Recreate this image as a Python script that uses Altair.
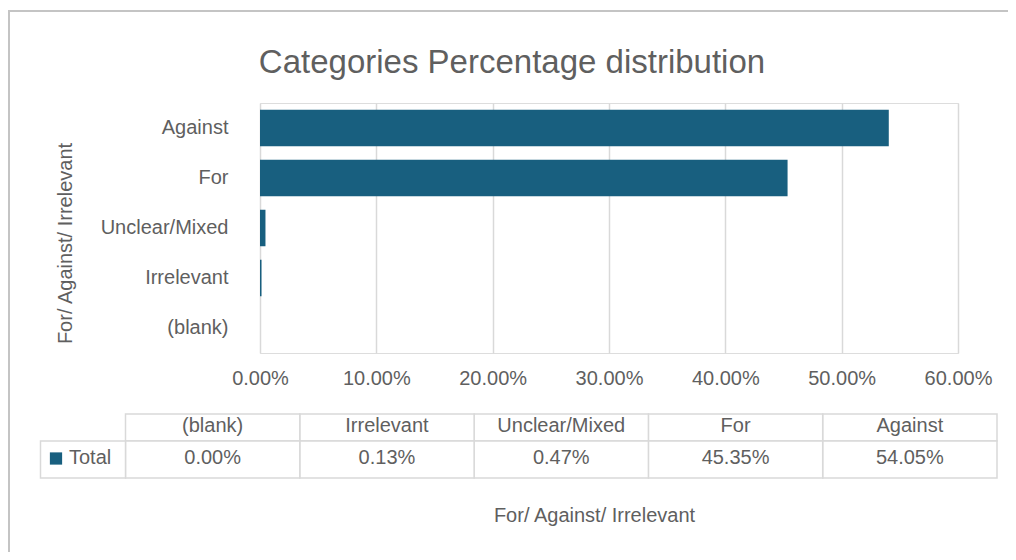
import altair as alt
import pandas as pd

# ---- data ----
categories = ["Against", "For", "Unclear/Mixed", "Irrelevant", "(blank)"]
percentages = [0.5405, 0.4535, 0.0047, 0.0013, 0.0000]
table_order = ["(blank)", "Irrelevant", "Unclear/Mixed", "For", "Against"]
x_ticks = [0.0, 0.1, 0.2, 0.3, 0.4, 0.5, 0.6]
series_name = "Total"
chart_title = "Categories Percentage distribution"
axis_title = "For/ Against/ Irrelevant"

# ---- styles ----
BAR = "#185f7f"
TXT = "#5f5f5f"
GRID = "#d9d9d9"
FRAME = "#c4c4c4"
FONT = "Liberation Sans"
FS = 20

df = pd.DataFrame({"category": categories, "value": percentages})
df["label"] = [f"{v * 100:.2f}%" for v in percentages]
df["hdr"] = "header"
df["series"] = series_name

legend_df = pd.DataFrame({"series": [series_name]})

# decorative outer chart frame (left and top edges visible in the reference)
frame = alt.Chart(alt.Data(values=[{"f": 1}])).mark_rect(
    filled=False, stroke=FRAME, strokeWidth=2
).encode(
    x=alt.value(-251), x2=alt.value(2000), y=alt.value(-92), y2=alt.value(2000)
)

bars = alt.Chart(df).mark_bar(color=BAR).encode(
    x=alt.X(
        "value:Q",
        scale=alt.Scale(domain=[0, 0.6], nice=False),
        axis=alt.Axis(
            values=x_ticks, format=".2%", title=axis_title,
            grid=True, gridColor=GRID, gridWidth=1.5,
            domain=False, ticks=False, tickSize=0,
            labelFlush=False, labelOverlap=False,
            labelPadding=15, labelFontSize=FS, labelColor=TXT, labelFont=FONT,
            titleFontSize=FS, titleColor=TXT, titleFont=FONT, titleFontWeight="normal",
            titleX=334, titleY=162, titleAlign="center", titleBaseline="middle",
        ),
    ),
    y=alt.Y(
        "category:N", sort=categories,
        scale=alt.Scale(paddingInner=0.27, paddingOuter=0.135),
        axis=alt.Axis(
            title=axis_title, grid=False, domain=False, ticks=False, tickSize=0,
            labelPadding=32, labelFontSize=FS, labelColor=TXT, labelFont=FONT,
            titleFontSize=FS, titleColor=TXT, titleFont=FONT, titleFontWeight="normal",
            titleX=-195, titleY=140, titleAngle=270, titleAlign="center",
            titleBaseline="middle",
        ),
    ),
)

tx = alt.X("category:N", sort=table_order,
           scale=alt.Scale(range=[-134.5, 737], paddingInner=0, paddingOuter=0),
           axis=None)

header_base = alt.Chart(df).encode(
    x=tx,
    y=alt.Y("hdr:N", scale=alt.Scale(range=[311, 338], paddingInner=0, paddingOuter=0),
            axis=None),
)
header = alt.layer(
    header_base.mark_rect(fill="white", stroke=GRID, strokeWidth=1.5),
    header_base.mark_text(font=FONT, fontSize=FS, color=TXT, dy=-2).encode(
        text="category:N"),
)

total_base = alt.Chart(df).encode(
    x=tx,
    y=alt.Y("series:N", scale=alt.Scale(range=[338, 375], paddingInner=0, paddingOuter=0),
            axis=None),
)
total = alt.layer(
    total_base.mark_rect(fill="white", stroke=GRID, strokeWidth=1.5),
    total_base.mark_text(font=FONT, fontSize=FS, color=TXT, dy=-2).encode(
        text="label:N"),
)

legend_base = alt.Chart(legend_df).encode(
    x=alt.X("series:N", scale=alt.Scale(range=[-219.5, -134.5], paddingInner=0,
                                        paddingOuter=0), axis=None),
    y=alt.Y("series:N", scale=alt.Scale(range=[338, 375], paddingInner=0,
                                        paddingOuter=0), axis=None),
)
legend = alt.layer(
    legend_base.mark_rect(fill="white", stroke=GRID, strokeWidth=1.5),
    legend_base.mark_point(shape="square", filled=True, color=BAR, size=150,
                           opacity=1, xOffset=-27, yOffset=-1),
    legend_base.mark_text(font=FONT, fontSize=FS, color=TXT, align="left",
                          dx=-14, dy=-2).encode(text="series:N"),
)

chart = alt.layer(frame, bars, header, total, legend).resolve_scale(
    x="independent", y="independent"
).properties(
    width=698,
    height=250,
    autosize=alt.AutoSizeParams(type="none"),
    padding={"left": 252, "top": 95, "right": 50, "bottom": 199},
    title=alt.TitleParams(
        chart_title, font=FONT, fontSize=33, fontWeight="normal", color=TXT,
        anchor="middle", frame="group", dx=-97, offset=-70,
    ),
).configure_view(stroke=None).configure(background="white")

chart.save("out.html", embed_options={"renderer": "svg", "actions": False})
